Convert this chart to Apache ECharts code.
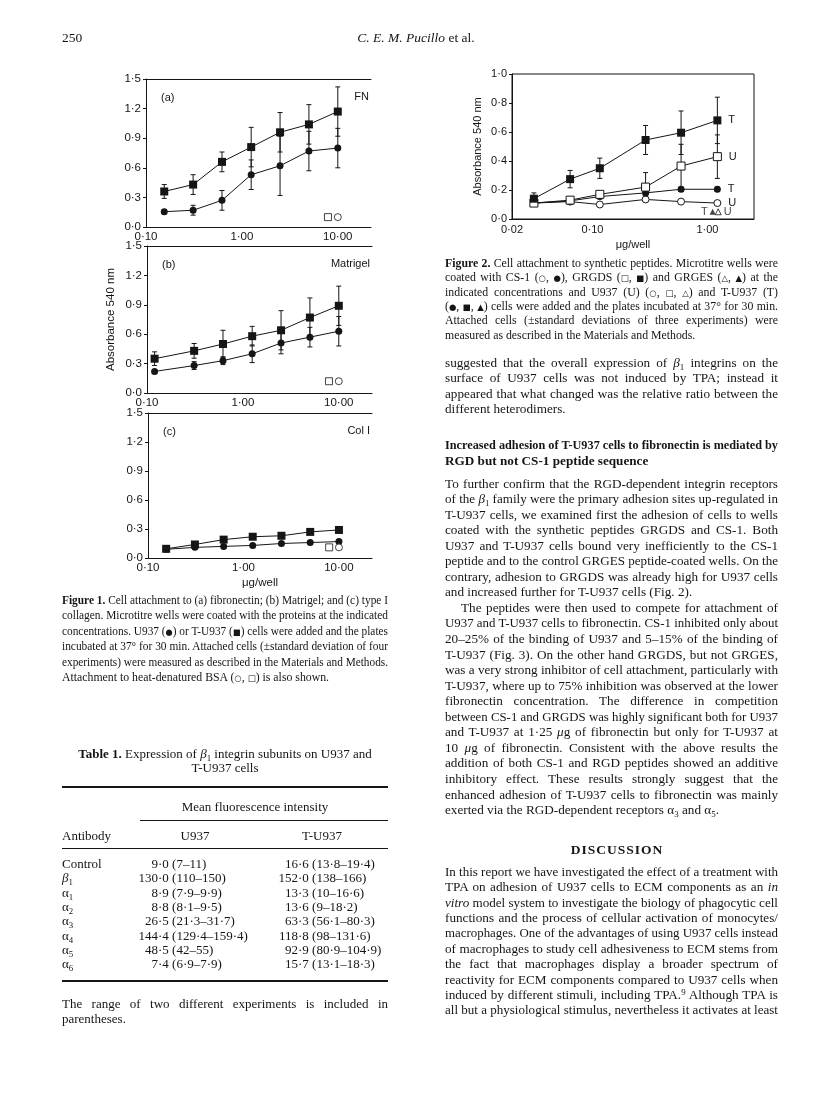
<!DOCTYPE html>
<html><head><meta charset="utf-8">
<script src="https://cdn.jsdelivr.net/npm/echarts@6/dist/echarts.min.js"></script>
<style>
html,body{margin:0;padding:0;background:#fff;}
#page{position:relative;width:816px;height:1114px;overflow:hidden;background:#fff;color:#151515;font-family:'Liberation Serif','Times New Roman',serif;}
#chart{position:absolute;left:0;top:0;width:816px;height:1114px;}
.ln{position:absolute;white-space:nowrap;line-height:16px;height:16px;font-size:13.2px;}
.ln > span{display:inline-block;transform-origin:0 50%;}
.cap{font-size:11.8px;}
.tb{font-size:13px;}
.hd{font-size:13.5px;}
.bd{font-weight:bold;}
.disc{font-weight:bold;letter-spacing:1px;font-size:13.5px;}
.ln sub{font-size:0.68em;vertical-align:-0.3em;line-height:0;}
.ln sup{font-size:0.68em;vertical-align:0.5em;line-height:0;}
.sym{font-family:'DejaVu Sans',sans-serif;font-size:0.72em;}
.rule{position:absolute;background:#151515;}
</style></head><body>
<div id="page"><div id="chart"></div></div>
<script>
// ---------------- Figure 1 data (x = µg/well, y = absorbance 540 nm) ----------------
const fig1Conc  = [0.155, 0.31, 0.62, 1.25, 2.5, 5, 10];
const fig1bConc = [0.12, 0.31, 0.62, 1.25, 2.5, 5, 10];
// (a) fibronectin
const fnTU937   = [0.36, 0.43, 0.66, 0.81, 0.96, 1.04, 1.17];
const fnTU937Sd = [0.07, 0.10, 0.10, 0.20, 0.20, 0.20, 0.25];
const fnU937    = [0.155, 0.17, 0.27, 0.53, 0.62, 0.77, 0.80];
const fnU937Sd  = [0.02, 0.05, 0.10, 0.15, 0.30, 0.20, 0.20];
// (b) Matrigel
const mgTU937   = [0.35, 0.43, 0.50, 0.58, 0.64, 0.77, 0.89];
const mgTU937Sd = [0.07, 0.075, 0.14, 0.10, 0.20, 0.20, 0.20];
const mgU937    = [0.22, 0.28, 0.33, 0.40, 0.51, 0.57, 0.63];
const mgU937Sd  = [0.02, 0.04, 0.04, 0.09, 0.11, 0.10, 0.15];
// (c) collagen type I
const colTU937  = [0.095, 0.14, 0.19, 0.22, 0.23, 0.27, 0.29];
const colU937   = [0.09, 0.11, 0.12, 0.13, 0.15, 0.16, 0.17];
// heat-denatured BSA (open square = T-U937, open circle = U937)
const bsaTConc = [7.9];
const bsaUConc = [10];
const fnBsaT = [0.10], fnBsaU = [0.10];
const mgBsaT = [0.12], mgBsaU = [0.12];
const colBsaT = [0.11], colBsaU = [0.11];
const panelTags  = ['(a)', '(b)', '(c)'];
const panelNames = ['FN', 'Matrigel', 'Col I'];

// ---------------- Figure 2 data ----------------
const fig2Conc   = [0.031, 0.064, 0.116, 0.29, 0.59, 1.22];
const grgdsT     = [0.14, 0.275, 0.35, 0.545, 0.595, 0.68];
const grgdsTSd   = [0.04, 0.06, 0.07, 0.10, 0.15, 0.16];
const grgdsU     = [0.11, 0.13, 0.17, 0.22, 0.365, 0.43];
const grgdsUSd   = [0.02, 0.02, 0.02, 0.10, 0.15, 0.15];
const cs1T       = [0.11, 0.125, 0.155, 0.18, 0.205, 0.205];
const cs1TSd     = [0.01, 0.01, 0.015, 0.015, 0.015, 0.015];
const cs1U       = [0.11, 0.12, 0.10, 0.135, 0.12, 0.11];
const grgesTConc = [1.11], grgesT = [0.05];
const grgesUConc = [1.24], grgesU = [0.05];

// ---------------- Table 1 ----------------
const abNames  = ['Control', '<i>β</i><sub>1</sub>', 'α<sub>1</sub>', 'α<sub>2</sub>', 'α<sub>3</sub>', 'α<sub>4</sub>', 'α<sub>5</sub>', 'α<sub>6</sub>'];
const u937Vals = ['9·0 (7–11)', '130·0 (110–150)', '8·9 (7·9–9·9)', '8·8 (8·1–9·5)', '26·5 (21·3–31·7)', '144·4 (129·4–159·4)', '48·5 (42–55)', '7·4 (6·9–7·9)'];
const tVals    = ['16·6 (13·8–19·4)', '152·0 (138–166)', '13·3 (10–16·6)', '13·6 (9–18·2)', '63·3 (56·1–80·3)', '118·8 (98–131·6)', '92·9 (80·9–104·9)', '15·7 (13·1–18·3)'];

// ================= page text =================
const page = document.getElementById('page');
function addLine(o){
  const d = document.createElement('div');
  d.className = 'ln ' + (o.cls || '');
  const s = document.createElement('span');
  s.innerHTML = o.h;
  d.appendChild(s);
  d.style.top = (o.y - 8) + 'px';
  if (o.cx !== undefined) { d.style.left = o.cx + 'px'; d.style.transform = 'translateX(-50%)'; }
  else if (o.rx !== undefined) { d.style.right = (816 - o.rx) + 'px'; }
  else d.style.left = o.x + 'px';
  page.appendChild(d);
  if (o.w) {
    const w = s.getBoundingClientRect().width;
    const n = (s.textContent.match(/ /g) || []).length;
    if (w > o.w) s.style.transform = 'scaleX(' + (o.w / w) + ')';
    else if (n && o.j) s.style.wordSpacing = ((o.w - w) / n) + 'px';
  }
  return d;
}
function rule(x, y, w, h){
  const r = document.createElement('div'); r.className = 'rule';
  r.style.left = x + 'px'; r.style.top = y + 'px'; r.style.width = w + 'px'; r.style.height = h + 'px';
  page.appendChild(r);
}
const LX = 62, LW = 326, RX = 445, RW = 333;
const S = t => '<span class="sym">' + t + '</span>';

// header
addLine({x: LX, y: 38, h: '250', cls: 'hd'});
addLine({cx: 416, y: 38, h: '<i>C. E. M. Pucillo</i> et al.', cls: 'hd'});

// Figure 1 caption
const cap1 = [
  ['<b>Figure 1.</b> Cell attachment to (a) fibronectin; (b) Matrigel; and (c) type I', 1],
  ['collagen. Microtitre wells were coated with the proteins at the indicated', 1],
  ['concentrations. U937 (' + S('●') + ') or T-U937 (' + S('■') + ') cells were added and the plates', 1],
  ['incubated at 37° for 30 min. Attached cells (±standard deviation of four', 1],
  ['experiments) were measured as described in the Materials and Methods.', 1],
  ['Attachment to heat-denatured BSA (' + S('○') + ', ' + S('□') + ') is also shown.', 0]
];
cap1.forEach((l, k) => addLine({x: LX, y: 600 + 15.4 * k, w: LW, j: l[1], h: l[0], cls: 'cap'}));

// Table 1
addLine({cx: 225, y: 754, h: '<b>Table 1.</b> Expression of <i>β</i><sub>1</sub> integrin subunits on U937 and', cls: 'tb'});
addLine({cx: 225, y: 768, h: 'T-U937 cells', cls: 'tb'});
rule(LX, 786, LW, 2);
addLine({cx: 255, y: 807, h: 'Mean fluorescence intensity', cls: 'tb'});
rule(140, 820, 388 - 140, 1);
addLine({x: LX, y: 836, h: 'Antibody', cls: 'tb'});
addLine({cx: 195, y: 836, h: 'U937', cls: 'tb'});
addLine({cx: 322, y: 836, h: 'T-U937', cls: 'tb'});
rule(LX, 848, LW, 1);
function decAligned(anchor, y, txt){
  const i = txt.indexOf('·');
  addLine({rx: anchor, y: y, h: txt.slice(0, i), cls: 'tb'});
  addLine({x: anchor, y: y, h: txt.slice(i), cls: 'tb'});
}
abNames.forEach((n, i) => {
  const y = 864 + 14.3 * i;
  addLine({x: LX, y: y, h: n, cls: 'tb'});
  decAligned(158, y, u937Vals[i]);
  decAligned(298, y, tVals[i]);
});
rule(LX, 980, LW, 2);
addLine({x: LX, y: 1004, w: LW, j: 1, h: 'The range of two different experiments is included in', cls: 'tb'});
addLine({x: LX, y: 1019, h: 'parentheses.', cls: 'tb'});

// Figure 2 caption
const cap2 = [
  ['<b>Figure 2.</b> Cell attachment to synthetic peptides. Microtitre wells were', 1],
  ['coated with CS-1 (' + S('○') + ', ' + S('●') + '), GRGDS (' + S('□') + ', ' + S('■') + ') and GRGES (' + S('△') + ', ' + S('▲') + ') at the', 1],
  ['indicated concentrations and U937 (U) (' + S('○') + ', ' + S('□') + ', ' + S('△') + ') and T-U937 (T)', 1],
  ['(' + S('●') + ', ' + S('■') + ', ' + S('▲') + ') cells were added and the plates incubated at 37° for 30 min.', 1],
  ['Attached cells (±standard deviations of three experiments) were', 1],
  ['measured as described in the Materials and Methods.', 0]
];
cap2.forEach((l, k) => addLine({x: RX, y: 263 + 14.35 * k, w: RW, j: l[1], h: l[0], cls: 'cap'}));

// body text, right column
const p0 = [
  ['suggested that the overall expression of <i>β</i><sub>1</sub> integrins on the', 1],
  ['surface of U937 cells was not induced by TPA; instead it', 1],
  ['appeared that what changed was the relative ratio between the', 1],
  ['different heterodimers.', 0]
];
p0.forEach((l, k) => addLine({x: RX, y: 363.3 + 15.1 * k, w: RW, j: l[1], h: l[0]}));
addLine({x: RX, y: 445, w: RW, j: 1, h: 'Increased adhesion of T-U937 cells to fibronectin is mediated by', cls: 'bd'});
addLine({x: RX, y: 460.7, h: 'RGD but not CS-1 peptide sequence', cls: 'bd'});
const p1 = [
  ['To further confirm that the RGD-dependent integrin receptors', 1, 0],
  ['of the <i>β</i><sub>1</sub> family were the primary adhesion sites up-regulated in', 1, 0],
  ['T-U937 cells, we examined first the adhesion of cells to wells', 1, 0],
  ['coated with the synthetic peptides GRGDS and CS-1. Both', 1, 0],
  ['U937 and T-U937 cells bound very inefficiently to the CS-1', 1, 0],
  ['peptide and to the control GRGES peptide-coated wells. On the', 1, 0],
  ['contrary, adhesion to GRGDS was already high for U937 cells', 1, 0],
  ['and increased further for T-U937 cells (Fig. 2).', 0, 0],
  ['The peptides were then used to compete for attachment of', 1, 16],
  ['U937 and T-U937 cells to fibronectin. CS-1 inhibited only about', 1, 0],
  ['20–25% of the binding of U937 and 5–15% of the binding of', 1, 0],
  ['T-U937 (Fig. 3). On the other hand GRGDS, but not GRGES,', 1, 0],
  ['was a very strong inhibitor of cell attachment, particularly with', 1, 0],
  ['T-U937, where up to 75% inhibition was observed at the lower', 1, 0],
  ['fibronectin concentration. The difference in competition', 1, 0],
  ['between CS-1 and GRGDS was highly significant both for U937', 1, 0],
  ['and T-U937 at 1·25 <i>μ</i>g of fibronectin but only for T-U937 at', 1, 0],
  ['10 <i>μ</i>g of fibronectin. Consistent with the above results the', 1, 0],
  ['addition of both CS-1 and RGD peptides showed an additive', 1, 0],
  ['inhibitory effect. These results strongly suggest that the', 1, 0],
  ['enhanced adhesion of T-U937 cells to fibronectin was mainly', 1, 0],
  ['exerted via the RGD-dependent receptors α<sub>3</sub> and α<sub>5</sub>.', 0, 0]
];
p1.forEach((l, k) => addLine({x: RX + l[2], y: 483.5 + 15.55 * k, w: RW - l[2], j: l[1], h: l[0]}));
addLine({cx: 617, y: 849.5, h: 'DISCUSSION', cls: 'disc'});
const p2 = [
  ['In this report we have investigated the effect of a treatment with', 1],
  ['TPA on adhesion of U937 cells to ECM components as an <i>in</i>', 1],
  ['<i>vitro</i> model system to investigate the biology of phagocytic cell', 1],
  ['functions and the process of cellular activation of monocytes/', 1],
  ['macrophages. One of the advantages of using U937 cells instead', 1],
  ['of macrophages to study cell adhesiveness to ECM stems from', 1],
  ['the fact that macrophages display a broader spectrum of', 1],
  ['reactivity for ECM components compared to U937 cells when', 1],
  ['induced by different stimuli, including TPA.<sup>9</sup> Although TPA is', 1],
  ['all but a physiological stimulus, nevertheless it activates at least', 1]
];
p2.forEach((l, k) => addLine({x: RX, y: 871.7 + 15.4 * k, w: RW, j: l[1], h: l[0]}));

// ================= charts =================
const INK = '#151515';
const SANS = "'Liberation Sans', Arial, sans-serif";
const fmtY = v => v.toFixed(1).replace('.', '·');
function fmtLog(v){
  if (Math.abs(v - 0.02) < 1e-6) return '0·02';
  const l = Math.log10(v), r = Math.round(l);
  if (Math.abs(l - r) < 1e-6 && r >= -1 && r <= 1) return v.toFixed(2).replace('.', '·');
  return '';
}
const grids = [
  {left: 146, top: 79,  width: 225, height: 148},
  {left: 147, top: 246, width: 225, height: 147},
  {left: 148, top: 413, width: 224, height: 145},
  {left: 512, top: 74,  width: 242, height: 145, show: true, borderColor: INK, borderWidth: 1, backgroundColor: 'transparent'}
];
const axisLbl = {color: INK, fontSize: 11.5, fontFamily: SANS};
const nameStyle = {color: INK, fontSize: 11.5, fontFamily: SANS};
const xAxes = [], yAxes = [];
for (let i = 0; i < 3; i++) {
  xAxes.push({type: 'log', logBase: 10, gridIndex: i, min: 0.1, max: 22.2,
    axisLine: {show: true, onZero: false, lineStyle: {color: INK, width: 1}},
    axisTick: {show: false}, minorTick: {show: false}, splitLine: {show: false},
    axisLabel: Object.assign({formatter: fmtLog, margin: 4, showMinLabel: true, showMaxLabel: true}, axisLbl)});
  yAxes.push({type: 'value', gridIndex: i, min: 0, max: 1.5, interval: 0.3,
    axisLine: {show: true, onZero: false, lineStyle: {color: INK, width: 1}},
    axisTick: {show: true, length: 3, lineStyle: {color: INK}}, splitLine: {show: false},
    axisLabel: Object.assign({formatter: fmtY, margin: 5}, axisLbl)});
}
xAxes[2].name = 'μg/well'; xAxes[2].nameLocation = 'middle'; xAxes[2].nameGap = 19; xAxes[2].nameTextStyle = nameStyle;
yAxes[1].name = 'Absorbance 540 nm'; yAxes[1].nameLocation = 'middle'; yAxes[1].nameGap = 30; yAxes[1].nameTextStyle = nameStyle;
xAxes.push({type: 'log', logBase: 10, gridIndex: 3, min: 0.02, max: 2.54,
  axisLine: {show: true, onZero: false, lineStyle: {color: INK, width: 1}},
  axisTick: {show: false}, minorTick: {show: false}, splitLine: {show: false},
  axisLabel: Object.assign({formatter: fmtLog, margin: 5, showMinLabel: true, showMaxLabel: true}, axisLbl, {fontSize: 11}),
  name: 'μg/well', nameLocation: 'middle', nameGap: 20, nameTextStyle: Object.assign({}, nameStyle, {fontSize: 11})});
yAxes.push({type: 'value', gridIndex: 3, min: 0, max: 1, interval: 0.2,
  axisLine: {show: true, onZero: false, lineStyle: {color: INK, width: 1}},
  axisTick: {show: true, length: 3, lineStyle: {color: INK}}, splitLine: {show: false},
  axisLabel: Object.assign({formatter: fmtY, margin: 5}, axisLbl, {fontSize: 11}),
  name: 'Absorbance 540 nm', nameLocation: 'middle', nameGap: 29, nameTextStyle: Object.assign({}, nameStyle, {fontSize: 11})});
// top border lines of Figure 1 panels
for (let i = 0; i < 3; i++) {
  xAxes.push({type: 'value', gridIndex: i, position: 'top', min: 0, max: 1,
    axisLine: {show: true, onZero: false, lineStyle: {color: INK, width: 1}},
    axisTick: {show: false}, axisLabel: {show: false}, splitLine: {show: false}});
}

function lineS(gi, xs, ys, sym, size, filled, lastLabel){
  return {type: 'line', xAxisIndex: gi, yAxisIndex: gi, animation: false, z: 3,
    symbol: sym, symbolSize: size, showAllSymbol: true,
    itemStyle: {color: filled ? INK : '#fff', borderColor: INK, borderWidth: filled ? 0 : 1},
    lineStyle: {color: INK, width: 1},
    emphasis: {disabled: true},
    data: xs.map((x, i) => {
      const p = [x, ys[i]];
      if (lastLabel && i === xs.length - 1)
        return {value: p, label: {show: true, formatter: lastLabel, position: 'right', distance: 7, color: INK, fontSize: 11, fontFamily: SANS}};
      return p;
    })};
}
function scatS(gi, xs, ys, sym, size, filled, lbl, lblPos){
  return {type: 'scatter', xAxisIndex: gi, yAxisIndex: gi, animation: false, z: 4,
    symbol: sym, symbolSize: size,
    itemStyle: {color: filled ? INK : '#fff', borderColor: INK, borderWidth: filled ? 0 : 1},
    label: lbl ? {show: true, formatter: lbl, position: lblPos, distance: 2, color: INK, fontSize: 11, fontFamily: SANS} : {show: false},
    emphasis: {disabled: true},
    data: xs.map((x, i) => [x, ys[i]])};
}
function errS(gi, xs, ys, sd){
  return {type: 'custom', xAxisIndex: gi, yAxisIndex: gi, z: 2, silent: true, animation: false,
    encode: {x: 0, y: [1, 2]},
    data: xs.map((x, i) => [x, ys[i] - sd[i], ys[i] + sd[i]]),
    renderItem: (params, api) => {
      const lo = api.coord([api.value(0), api.value(1)]);
      const hi = api.coord([api.value(0), api.value(2)]);
      const c = 2.5, st = {stroke: INK, lineWidth: 1};
      return {type: 'group', children: [
        {type: 'line', shape: {x1: lo[0], y1: lo[1], x2: hi[0], y2: hi[1]}, style: st},
        {type: 'line', shape: {x1: lo[0] - c, y1: lo[1], x2: lo[0] + c, y2: lo[1]}, style: st},
        {type: 'line', shape: {x1: hi[0] - c, y1: hi[1], x2: hi[0] + c, y2: hi[1]}, style: st}
      ]};
    }};
}
const series = [
  // (a)
  errS(0, fig1Conc, fnTU937, fnTU937Sd), errS(0, fig1Conc, fnU937, fnU937Sd),
  lineS(0, fig1Conc, fnTU937, 'rect', 8, true), lineS(0, fig1Conc, fnU937, 'circle', 7, true),
  scatS(0, bsaTConc, fnBsaT, 'rect', 7, false), scatS(0, bsaUConc, fnBsaU, 'circle', 7, false),
  // (b)
  errS(1, fig1bConc, mgTU937, mgTU937Sd), errS(1, fig1bConc, mgU937, mgU937Sd),
  lineS(1, fig1bConc, mgTU937, 'rect', 8, true), lineS(1, fig1bConc, mgU937, 'circle', 7, true),
  scatS(1, bsaTConc, mgBsaT, 'rect', 7, false), scatS(1, bsaUConc, mgBsaU, 'circle', 7, false),
  // (c)
  lineS(2, fig1Conc, colTU937, 'rect', 8, true), lineS(2, fig1Conc, colU937, 'circle', 7, true),
  scatS(2, bsaTConc, colBsaT, 'rect', 7, false), scatS(2, bsaUConc, colBsaU, 'circle', 7, false),
  // Figure 2
  errS(3, fig2Conc, grgdsT, grgdsTSd), errS(3, fig2Conc, grgdsU, grgdsUSd), errS(3, fig2Conc, cs1T, cs1TSd),
  lineS(3, fig2Conc, cs1U, 'circle', 7, false, 'U'),
  lineS(3, fig2Conc, cs1T, 'circle', 7, true, 'T'),
  lineS(3, fig2Conc, grgdsU, 'rect', 8, false, 'U'),
  lineS(3, fig2Conc, grgdsT, 'rect', 8, true, 'T'),
  scatS(3, grgesTConc, grgesT, 'triangle', 6, true, 'T', 'left'),
  scatS(3, grgesUConc, grgesU, 'triangle', 6, false, 'U', 'right')
];
const graphics = [];
for (let i = 0; i < 3; i++) {
  const g = grids[i];
  graphics.push({type: 'text', x: g.left + 15, y: g.top + 19, silent: true,
    style: {text: panelTags[i], fill: INK, font: '11px ' + SANS, textAlign: 'left', textVerticalAlign: 'middle', align: 'left', verticalAlign: 'middle'}});
  graphics.push({type: 'text', x: g.left + g.width - 2, y: g.top + 18, silent: true,
    style: {text: panelNames[i], fill: INK, font: '11px ' + SANS, textAlign: 'right', textVerticalAlign: 'middle', align: 'right', verticalAlign: 'middle'}});
}
const chart = echarts.init(document.getElementById('chart'), null, {renderer: 'canvas'});
chart.setOption({
  animation: false,
  backgroundColor: 'transparent',
  grid: grids,
  xAxis: xAxes,
  yAxis: yAxes,
  series: series,
  graphic: graphics
});
</script></body></html>
